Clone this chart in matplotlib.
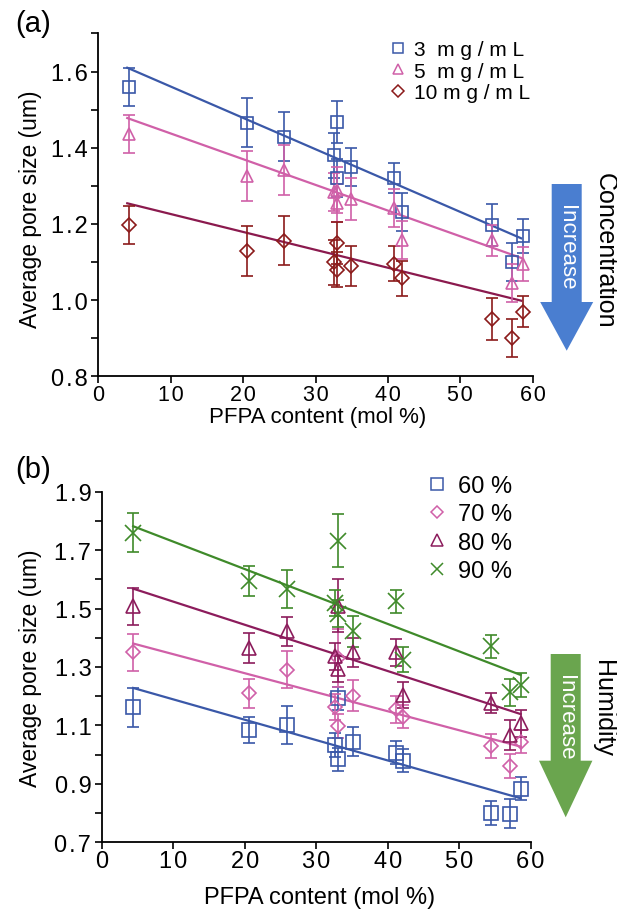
import numpy as np
import matplotlib
matplotlib.use("Agg")
import matplotlib.pyplot as plt
from matplotlib.lines import Line2D
from matplotlib.patches import FancyArrow

plt.rcParams['font.family'] = ['Liberation Sans', 'DejaVu Sans']

# ---- panel (a) data: concentration series ----
x_a = [4.3, 20.5, 25.7, 32.5, 32.9, 33.0, 34.9, 40.9, 41.9, 54.4, 57.1, 58.6]
y_3 = [1.56, 1.466, 1.429, 1.38, 1.468, 1.32, 1.35, 1.32, 1.232, 1.198, 1.099, 1.169]
e_3 = [0.05, 0.065, 0.065, 0.06, 0.055, 0.05, 0.05, 0.04, 0.05, 0.055, 0.05, 0.045]
y_5 = [1.435, 1.326, 1.342, 1.284, 1.29, 1.256, 1.265, 1.243, 1.157, 1.157, 1.045, 1.094]
e_5 = [0.05, 0.065, 0.065, 0.05, 0.06, 0.05, 0.055, 0.05, 0.05, 0.04, 0.05, 0.045]
y_10 = [1.197, 1.129, 1.156, 1.099, 1.149, 1.08, 1.09, 1.096, 1.057, 0.95, 0.90, 0.97]
e_10 = [0.05, 0.065, 0.065, 0.06, 0.055, 0.045, 0.053, 0.045, 0.045, 0.055, 0.05, 0.04]
labels_a = ["3  m g / m L", "5  m g / m L", "10 m g / m L"]
# linear fits (slope, intercept) and x range of fit lines
fit_a = [(-0.00823, 1.643), (-0.00675, 1.505), (-0.0047, 1.273)]
fit_range_a = [4.0, 58.4]
yticks_a = [0.8, 1.0, 1.2, 1.4, 1.6]

# ---- panel (b) data: humidity series ----
x_b = [4.4, 20.6, 25.9, 32.6, 33.0, 33.1, 35.1, 41.1, 42.1, 54.5, 57.1, 58.6]
y_60 = [1.162, 1.084, 1.102, 1.033, 1.193, 0.984, 1.044, 1.007, 0.979, 0.80, 0.798, 0.884]
e_60 = [0.066, 0.045, 0.065, 0.04, 0.04, 0.04, 0.05, 0.04, 0.04, 0.04, 0.05, 0.04]
y_70 = [1.35, 1.21, 1.291, 1.162, 1.33, 1.098, 1.202, 1.155, 1.13, 1.03, 0.961, 1.044]
e_70 = [0.063, 0.05, 0.063, 0.045, 0.1, 0.04, 0.052, 0.045, 0.04, 0.04, 0.04, 0.04]
y_80 = [1.508, 1.365, 1.422, 1.336, 1.51, 1.293, 1.35, 1.35, 1.205, 1.176, 1.067, 1.107]
e_80 = [0.063, 0.05, 0.05, 0.045, 0.09, 0.045, 0.05, 0.045, 0.045, 0.035, 0.05, 0.045]
y_90 = [1.76, 1.594, 1.566, 1.52, 1.732, 1.483, 1.422, 1.525, 1.325, 1.371, 1.213, 1.239]
e_90 = [0.066, 0.052, 0.065, 0.045, 0.09, 0.045, 0.052, 0.04, 0.043, 0.04, 0.045, 0.04]
labels_b = ["60 %", "70 %", "80 %", "90 %"]
fit_b = [(-0.00697, 1.259), (-0.00651, 1.409), (-0.00792, 1.603), (-0.00939, 1.823)]
fit_range_b = [4.4, 58.6]
yticks_b = [0.7, 0.9, 1.1, 1.3, 1.5, 1.7, 1.9]

blue = '#3a58a8'
pink = '#d060a8'
darkred = '#8b1a1a'
maroon = '#8b1a4e'
plum = '#8c1c5c'
green = '#3f8a2a'

fig = plt.figure(figsize=(6.17, 9.12), dpi=100)
ax1 = fig.add_axes([0.1593, 0.5863, 0.7041, 0.3759])
ax2 = fig.add_axes([0.1648, 0.0753, 0.6953, 0.3845])


def spaced(s):
    # reference tick labels are slightly letter-spaced
    return '\u200a'.join(s)


def style_axis(ax, xsize):
    ax.spines['top'].set_visible(False)
    ax.spines['right'].set_visible(False)
    ax.spines['left'].set_linewidth(1.3)
    ax.spines['bottom'].set_linewidth(1.3)
    ax.tick_params(which='both', direction='out', width=1.2, labelsize=17, length=5)
    ax.tick_params(axis='x', pad=0.5, labelsize=xsize)
    ax.tick_params(axis='y', pad=2.5)
    ax.set_xlim(0, 60)
    xt = np.arange(0, 61, 10)
    ax.set_xticks(xt)
    ax.set_xticklabels([spaced(str(v)) for v in xt])


def series(ax, x, y, e, color, marker, ms, lcolor, fit, xr):
    ax.errorbar(x, y, yerr=e, fmt=marker, ms=ms, mfc='none', mec=color, mew=1.2,
                ecolor=color, elinewidth=1.2, capsize=4, capthick=1.2, zorder=3)
    xs = np.array(xr)
    ax.plot(xs, fit[0] * xs + fit[1], color=lcolor, lw=1.6, zorder=2)


# panel (a)
style_axis(ax1, 15.5)
series(ax1, x_a, y_3, e_3, blue, 's', 8, blue, fit_a[0], fit_range_a)
series(ax1, x_a, y_5, e_5, pink, '^', 8.5, pink, fit_a[1], fit_range_a)
series(ax1, x_a, y_10, e_10, darkred, 'D', 7, maroon, fit_a[2], fit_range_a)
ax1.set_ylim(0.8, 1.7)
ax1.set_yticks(yticks_a)
ax1.set_yticklabels([spaced('%.1f' % v) for v in yticks_a])
ax1.set_yticks(np.arange(0.9, 1.71, 0.2), minor=True)

h_a = [Line2D([], [], ls='none', marker=m, ms=s, mfc='none', mec=c, mew=1.1)
       for m, s, c in [('s', 7, blue), ('^', 7.5, pink), ('D', 6, darkred)]]
ax1.legend(h_a, labels_a, loc='upper left', bbox_to_anchor=(390 / 617, 1 - 41 / 912),
           bbox_transform=fig.transFigure, frameon=False, fontsize=15,
           handlelength=0.8, handletextpad=0.35, labelspacing=0.13, borderpad=0, borderaxespad=0)

# panel (b)
style_axis(ax2, 17)
series(ax2, x_b, y_60, e_60, blue, 's', 9.5, blue, fit_b[0], fit_range_b)
series(ax2, x_b, y_70, e_70, pink, 'D', 7.5, pink, fit_b[1], fit_range_b)
series(ax2, x_b, y_80, e_80, plum, '^', 10, plum, fit_b[2], fit_range_b)
series(ax2, x_b, y_90, e_90, green, 'x', 12, green, fit_b[3], fit_range_b)
ax2.set_ylim(0.7, 1.9)
ax2.set_yticks(yticks_b)
ax2.set_yticklabels([spaced('%.1f' % v) for v in yticks_b])
ax2.set_yticks(np.arange(0.8, 1.81, 0.2), minor=True)

h_b = [Line2D([], [], ls='none', marker=m, ms=s, mfc='none', mec=c, mew=1.1)
       for m, s, c in [('s', 8, blue), ('D', 6.5, pink), ('^', 8.5, plum), ('x', 9, green)]]
ax2.legend(h_b, labels_b, loc='upper left', bbox_to_anchor=(428 / 617, 1 - 476 / 912),
           bbox_transform=fig.transFigure, frameon=False, fontsize=17,
           handlelength=0.8, handletextpad=0.45, labelspacing=0.27, borderpad=0, borderaxespad=0)

# axis titles
for yc in [209, 668]:
    fig.text(31 / 617, 1 - yc / 912, 'Average pore size (um)', rotation=90,
             ha='center', va='center', fontsize=16.5)
fig.text(318 / 617, 1 - 418 / 912, 'PFPA content (mol %)', ha='center', va='center', fontsize=16)
fig.text(320 / 617, 1 - 898 / 912, 'PFPA content (mol %)', ha='center', va='center', fontsize=17)
fig.text(15 / 617, 1 - 24 / 912, '(a)', ha='left', va='center', fontsize=21)
fig.text(15 / 617, 1 - 470 / 912, '(b)', ha='left', va='center', fontsize=21)

# arrows with labels
fig.add_artist(FancyArrow(5.667, 9.12 - 1.85, 0, -1.667, width=0.30, head_width=0.53,
                          head_length=0.487, length_includes_head=True,
                          color='#4a7ed0', lw=0, transform=fig.dpi_scale_trans))
fig.add_artist(FancyArrow(5.657, 9.12 - 6.55, 0, -1.633, width=0.30, head_width=0.534,
                          head_length=0.566, length_includes_head=True,
                          color='#6aa54e', lw=0, transform=fig.dpi_scale_trans))
fig.text(566.7 / 617, 1 - 248 / 912, 'Increase', rotation=-90, color='white',
         ha='center', va='center', fontsize=16)
fig.text(565.7 / 617, 1 - 718 / 912, 'Increase', rotation=-90, color='white',
         ha='center', va='center', fontsize=16)
fig.text(605 / 617, 1 - 251 / 912, 'Concentration', rotation=-90,
         ha='center', va='center', fontsize=18)
fig.text(603 / 617, 1 - 708 / 912, 'Humidity', rotation=-90,
         ha='center', va='center', fontsize=18)

fig.savefig('out.png', dpi=100)
